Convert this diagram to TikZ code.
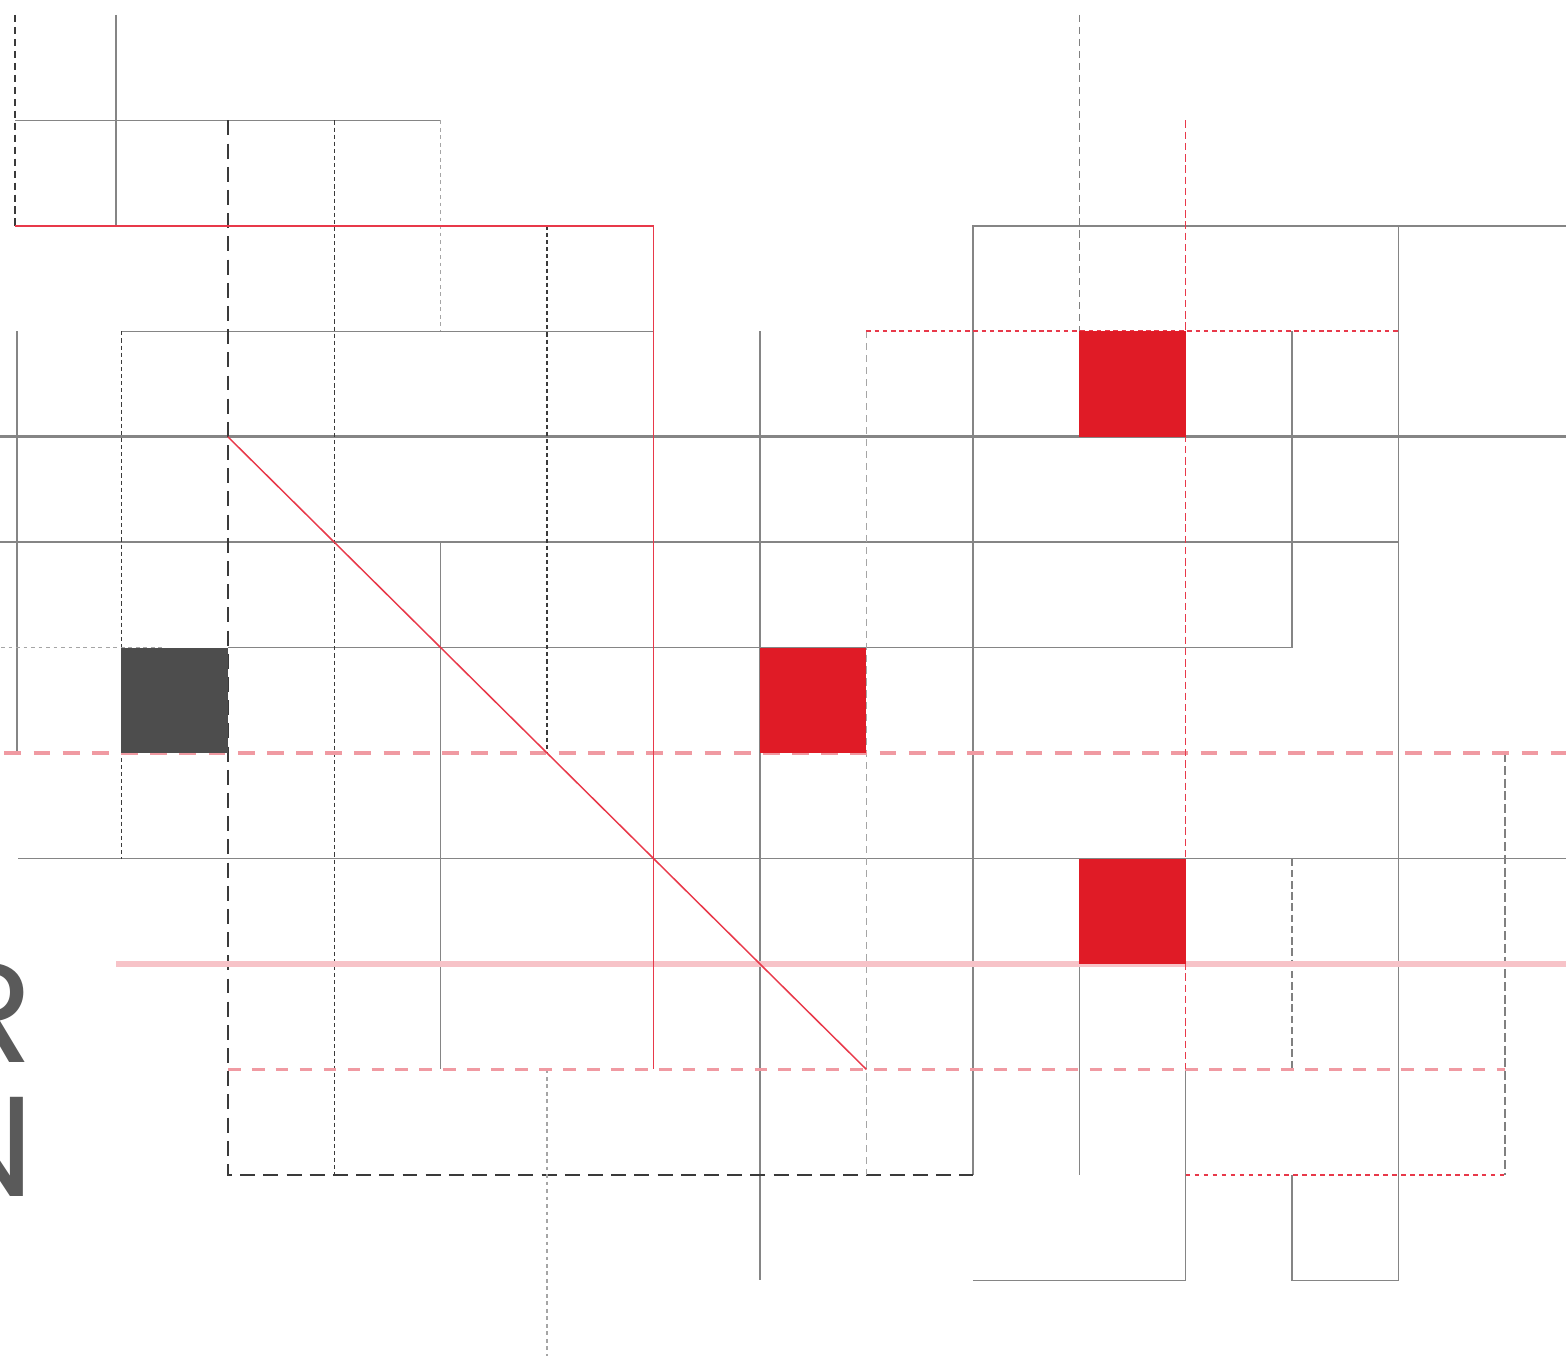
\documentclass[tikz,border=0pt]{standalone}
\usepackage{fontspec}
\newfontfamily\letterfont{Poppins}
\usepackage{tikz}
\definecolor{gridgray}{HTML}{858585}
\definecolor{dashgray}{HTML}{3A3A3A}
\definecolor{softgray}{HTML}{A5A5A5}
\definecolor{markred}{HTML}{E01B26}
\definecolor{linered}{HTML}{E8394A}
\definecolor{palered}{HTML}{F09AA2}
\definecolor{pinkline}{HTML}{F7C3C8}
\definecolor{darkblock}{HTML}{4D4D4D}
\definecolor{lettergray}{HTML}{5A5A5A}

\begin{document}
\begin{tikzpicture}[x=1cm, y=-.9908cm, line width=.4pt,
  longdash/.style={dash pattern=on 4pt off 2.2pt},
  shortdash/.style={dash pattern=on 1.1pt off .8pt},
  middash/.style={dash pattern=on 1.9pt off 1.3pt},
  finedot/.style={dash pattern=on 1pt off 1pt},
  letters/.style={anchor=base east, inner sep=0pt, text=lettergray,
    font=\letterfont\fontsize{38}{38}\selectfont}]

\useasboundingbox (-.141,-.142) rectangle (14.573,12.708);
\clip (-.141,-.142) rectangle (14.573,12.708);

\begin{scope}[gridgray]
\draw (.95,0) to (.95,2);
\draw (0,1) to (4,1);
\draw (1,3) to (6,3);
\draw (.02,3) to (.02,7);
\draw (-.2,5) to (13,5);
\draw (2,6) to (12,6) to (12,3);
\draw (4,5) to (4,10);
\draw (.03,8) to (14.6,8);
\draw (7,3) to (7,12);
\draw (9,11) to (9,2) to (14.6,2);
\draw (10,9) to (10,11);
\draw (9,12) to (11,12) to (11,10);
\draw (12,11) to (12,12) to (13,12) to (13,2);
\draw[line width=.8pt] (-.2,4) to (14.6,4);
\end{scope}

\begin{scope}[dashgray]
\draw[middash] (0,0) to (0,2);
\draw[longdash, line width=.5pt] (2,1) to (2,11) to (9,11);
\draw[shortdash] (3,1) to (3,11);
\draw[shortdash] (5,2) to (5,7);
\draw[shortdash] (1,3) to (1,8);
\end{scope}

\begin{scope}[softgray]
\draw[finedot] (4,1) to (4,3);
\draw[middash] (8,3) to (8,11);
\draw[middash, gray] (10,0) to (10,3);
\draw[finedot] (5,10) to (5,12.8);
\draw[dash pattern=on 2pt off 1pt, gray] (12,8) to (12,10);
\draw[dash pattern=on 2.4pt off 1pt, gray] (14,7) to (14,11);
\end{scope}

\draw[pinkline, line width=1.5pt] (.95,9) to (14.6,9);
\draw[palered, line width=1.1pt, dash pattern=on 4.5pt off 3.3pt]
  (-.1,7) to (14.6,7);
\draw[palered, line width=.55pt, dash pattern=on 3.4pt off 3pt]
  (2,10) to (14,10);

\begin{scope}[linered]
\draw (0,2) to (6,2) to (6,10);
\draw (2,4) to (8,10);
\draw[dash pattern=on 2pt off 1pt] (11,1) to (11,10);
\draw[line width=.5pt, dash pattern=on 1.2pt off 1pt] (8,3) to (13,3);
\draw[line width=.7pt, dash pattern=on 1.2pt off 1.2pt] (11,11) to (14,11);
\end{scope}

\fill[darkblock] (1,6) rectangle (2,7);
\fill[markred] (10,3) rectangle (11,4);
\fill[markred] (7,6) rectangle (8,7);
\fill[markred] (10,8) rectangle (11,9);

\draw[softgray, finedot] (-.2,6) to (1.41,6);

\node[letters] (lastR) at (.18,9.93) {R};
\node[letters] (lastN) at (.19,11.2) {N};

\end{tikzpicture}
\end{document}
